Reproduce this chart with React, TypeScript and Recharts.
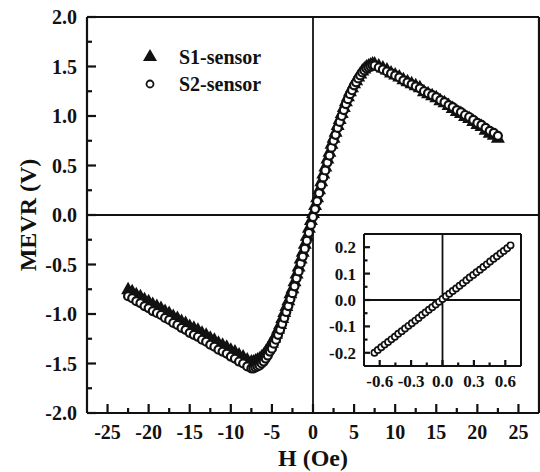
import { ScatterChart, Scatter, XAxis, YAxis, ReferenceLine, Legend } from 'recharts';

const FONT = '"Liberation Serif", "Times New Roman", serif';
const INK = '#111';

// Applied field (Oe): 0.5 Oe steps on the flanks, 0.25 Oe through the switching region
const H_FIELD = [
  -22.5, -22, -21.5, -21, -20.5, -20, -19.5, -19, -18.5, -18, -17.5, -17, -16.5, -16, -15.5,
  -15, -14.5, -14, -13.5, -13, -12.5, -12, -11.5, -11, -10.5, -10, -9.5, -9, -8.5, -8,
  -7.5, -7.25, -7, -6.75, -6.5, -6.25, -6, -5.75, -5.5, -5.25, -5, -4.75, -4.5, -4.25, -4,
  -3.75, -3.5, -3.25, -3, -2.75, -2.5, -2.25, -2, -1.75, -1.5, -1.25, -1, -0.75, -0.5, -0.25,
  0, 0.25, 0.5, 0.75, 1, 1.25, 1.5, 1.75, 2, 2.25, 2.5, 2.75, 3, 3.25, 3.5, 3.75,
  4, 4.25, 4.5, 4.75, 5, 5.25, 5.5, 5.75, 6, 6.25, 6.5, 6.75, 7, 7.25, 7.5,
  8, 8.5, 9, 9.5, 10, 10.5, 11, 11.5, 12, 12.5, 13, 13.5, 14, 14.5, 15,
  15.5, 16, 16.5, 17, 17.5, 18, 18.5, 19, 19.5, 20, 20.5, 21, 21.5, 22, 22.5,
];

// S1-sensor output (V)
const S1_MEVR = [
  -0.75, -0.77, -0.80, -0.82, -0.85, -0.87, -0.90, -0.92, -0.94, -0.97, -0.99, -1.02, -1.04, -1.07, -1.09,
  -1.12, -1.14, -1.16, -1.19, -1.21, -1.24, -1.26, -1.29, -1.31, -1.33, -1.36, -1.38, -1.41, -1.43, -1.46,
  -1.48, -1.48, -1.47, -1.46, -1.45, -1.43, -1.41, -1.38, -1.35, -1.31, -1.29, -1.24, -1.20, -1.15, -1.10,
  -1.04, -0.98, -0.92, -0.86, -0.79, -0.74, -0.67, -0.59, -0.52, -0.44, -0.37, -0.29, -0.21, -0.13, -0.05,
  0.02, 0.10, 0.18, 0.26, 0.34, 0.42, 0.49, 0.57, 0.64, 0.72, 0.78, 0.84, 0.91, 0.97, 1.03, 1.09,
  1.15, 1.20, 1.25, 1.29, 1.33, 1.36, 1.40, 1.43, 1.46, 1.48, 1.50, 1.51, 1.52, 1.53, 1.53,
  1.51, 1.49, 1.47, 1.44, 1.42, 1.40, 1.37, 1.35, 1.33, 1.31, 1.29, 1.25, 1.23, 1.21, 1.19,
  1.16, 1.14, 1.11, 1.08, 1.05, 1.03, 1.00, 0.98, 0.95, 0.92, 0.90, 0.86, 0.83, 0.81, 0.78,
];

// S2-sensor output (V)
const S2_MEVR = [
  -0.82, -0.84, -0.87, -0.89, -0.92, -0.94, -0.97, -0.99, -1.01, -1.04, -1.06, -1.09, -1.11, -1.14, -1.16,
  -1.19, -1.21, -1.23, -1.26, -1.28, -1.31, -1.33, -1.36, -1.38, -1.40, -1.43, -1.45, -1.48, -1.50, -1.53,
  -1.55, -1.55, -1.54, -1.53, -1.52, -1.50, -1.48, -1.45, -1.42, -1.38, -1.35, -1.30, -1.26, -1.21, -1.16,
  -1.10, -1.04, -0.98, -0.92, -0.85, -0.79, -0.72, -0.64, -0.57, -0.49, -0.42, -0.34, -0.26, -0.18, -0.10,
  -0.02, 0.06, 0.14, 0.22, 0.30, 0.38, 0.45, 0.53, 0.60, 0.68, 0.75, 0.81, 0.88, 0.94, 1.00, 1.06,
  1.12, 1.17, 1.22, 1.26, 1.31, 1.34, 1.38, 1.41, 1.44, 1.46, 1.48, 1.49, 1.50, 1.51, 1.51,
  1.49, 1.47, 1.45, 1.43, 1.41, 1.39, 1.36, 1.34, 1.32, 1.30, 1.28, 1.25, 1.23, 1.21, 1.19,
  1.16, 1.14, 1.11, 1.09, 1.06, 1.04, 1.01, 0.99, 0.96, 0.93, 0.91, 0.88, 0.85, 0.83, 0.80,
];

// inset: low-field sweep
const INSET_H = [
  -0.650, -0.618, -0.585, -0.553, -0.520, -0.488, -0.455, -0.423, -0.390, -0.358, -0.325,
  -0.293, -0.260, -0.228, -0.195, -0.163, -0.130, -0.098, -0.065, -0.033, 0,
  0.033, 0.065, 0.098, 0.130, 0.163, 0.195, 0.228, 0.260, 0.293, 0.325,
  0.358, 0.390, 0.423, 0.455, 0.488, 0.520, 0.553, 0.585, 0.618, 0.650,
];
const INSET_MEVR = [
  -0.200, -0.189, -0.179, -0.169, -0.159, -0.149, -0.139, -0.128, -0.118, -0.108, -0.098,
  -0.088, -0.078, -0.068, -0.057, -0.047, -0.037, -0.027, -0.017, -0.007, 0.004,
  0.014, 0.024, 0.034, 0.044, 0.054, 0.064, 0.075, 0.085, 0.095, 0.105,
  0.115, 0.125, 0.135, 0.146, 0.156, 0.166, 0.176, 0.186, 0.196, 0.207,
];

const H_TICKS = [-25, -22.5, -20, -17.5, -15, -12.5, -10, -7.5, -5, -2.5, 0, 2.5, 5, 7.5, 10, 12.5, 15, 17.5, 20, 22.5, 25];
const V_TICKS = [-2, -1.75, -1.5, -1.25, -1, -0.75, -0.5, -0.25, 0, 0.25, 0.5, 0.75, 1, 1.25, 1.5, 1.75, 2];
const INSET_H_TICKS = [-0.6, -0.45, -0.3, -0.15, 0, 0.15, 0.3, 0.45, 0.6];
const INSET_V_TICKS = [-0.2, -0.15, -0.1, -0.05, 0, 0.05, 0.1, 0.15, 0.2];

const s1Data = H_FIELD.map((h, i) => ({ h, v: S1_MEVR[i] }));
const s2Data = H_FIELD.map((h, i) => ({ h, v: S2_MEVR[i] }));
const insetData = INSET_H.map((h, i) => ({ h, v: INSET_MEVR[i] }));

const onStep = (v: number, step: number) => Math.abs(v / step - Math.round(v / step)) < 1e-6;

// each tick draws its own inward mark (long on majors, short on minors) and a label on majors
const bottomTick = (step: number, long: number, short: number, fs: number, gap: number, fmt: (v: number) => string) =>
  (props: any) => {
    const { x, y, payload } = props;
    const major = onStep(payload.value, step);
    const len = major ? long : short;
    return (
      <g>
        <rect x={x - 1.1} y={y - len} width={2.2} height={len} fill={INK} />
        {major && (
          <text x={x} y={y + gap} textAnchor="middle" fontFamily={FONT} fontWeight="bold" fontSize={fs} fill={INK}>
            {fmt(payload.value)}
          </text>
        )}
      </g>
    );
  };

const leftTick = (step: number, long: number, short: number, fs: number, gap: number, dy: number, fmt: (v: number) => string) =>
  (props: any) => {
    const { x, y, payload } = props;
    const major = onStep(payload.value, step);
    return (
      <g>
        <rect x={x} y={y - 1.1} width={major ? long : short} height={2.2} fill={INK} />
        {major && (
          <text x={x - gap} y={y + dy} textAnchor="end" fontFamily={FONT} fontWeight="bold" fontSize={fs} fill={INK}>
            {fmt(payload.value)}
          </text>
        )}
      </g>
    );
  };

const Triangle = (p: any) => (
  <polygon points={`${p.cx},${p.cy - 7.5} ${p.cx - 7},${p.cy + 5} ${p.cx + 7},${p.cy + 5}`} fill={INK} />
);
const OpenCircle = (p: any) => <circle cx={p.cx} cy={p.cy} r={4} fill="#fff" stroke={INK} strokeWidth={2.2} />;
const SmallCircle = (p: any) => <circle cx={p.cx} cy={p.cy} r={3.1} fill="#fff" stroke={INK} strokeWidth={1.7} />;

function LegendBox() {
  const txt = { fontFamily: FONT, fontWeight: 'bold' as const, fontSize: 20, fill: INK };
  return (
    <svg width={180} height={62}>
      <polygon points="22,11 15,23 29,23" fill={INK} />
      <text x={51} y={26} {...txt}>S1-sensor</text>
      <circle cx={22} cy={46} r={3.5} fill="#fff" stroke={INK} strokeWidth={1.8} />
      <text x={51} y={53} {...txt}>S2-sensor</text>
    </svg>
  );
}

function Inset() {
  return (
    <ScatterChart width={240} height={172} margin={{ top: 10, right: 9, bottom: 0, left: 0 }}>
      <XAxis
        type="number"
        dataKey="h"
        domain={[-0.75, 0.75]}
        ticks={INSET_H_TICKS}
        interval={0}
        height={30}
        tickSize={0}
        tickMargin={0}
        tickLine={false}
        axisLine={{ stroke: INK, strokeWidth: 2 }}
        tick={bottomTick(0.3, 6, 3.5, 17, 21, (v) => v.toFixed(1))}
      />
      <YAxis
        type="number"
        dataKey="v"
        domain={[-0.25, 0.25]}
        ticks={INSET_V_TICKS}
        interval={0}
        width={74}
        tickSize={0}
        tickMargin={0}
        tickLine={false}
        axisLine={{ stroke: INK, strokeWidth: 2 }}
        tick={leftTick(0.1, 6, 3.5, 17, 8, 6, (v) => v.toFixed(1))}
      />
      <ReferenceLine y={0.25} stroke={INK} strokeWidth={2} ifOverflow="visible" />
      <ReferenceLine x={0.75} stroke={INK} strokeWidth={2} ifOverflow="visible" />
      <ReferenceLine y={0} stroke={INK} strokeWidth={1.8} />
      <ReferenceLine x={0} stroke={INK} strokeWidth={1.8} />
      <Scatter data={insetData} shape={SmallCircle} isAnimationActive={false} />
    </ScatterChart>
  );
}

export default function App() {
  return (
    <div style={{ position: 'absolute', left: 0, top: 0, width: 540, height: 472, background: '#fff' }}>
      <ScatterChart width={540} height={472} margin={{ top: 17, right: 1, bottom: 0, left: 0 }}>
        <XAxis
          type="number"
          dataKey="h"
          domain={[-27.5, 27.5]}
          ticks={H_TICKS}
          interval={0}
          height={59}
          tickSize={0}
          tickMargin={0}
          tickLine={false}
          axisLine={{ stroke: INK, strokeWidth: 2.2 }}
          tick={bottomTick(5, 9, 5, 20, 26, (v) => String(v))}
          label={{
            value: 'H (Oe)',
            position: 'insideBottom',
            offset: 6,
            style: { fontFamily: FONT, fontWeight: 'bold', fontSize: 24, fill: INK },
          }}
        />
        <YAxis
          type="number"
          dataKey="v"
          domain={[-2, 2]}
          ticks={V_TICKS}
          interval={0}
          width={87}
          tickSize={0}
          tickMargin={0}
          tickLine={false}
          axisLine={{ stroke: INK, strokeWidth: 2.2 }}
          tick={leftTick(0.5, 9, 5, 20, 10, 7, (v) => v.toFixed(1))}
          label={{
            value: 'MEVR (V)',
            angle: -90,
            position: 'insideLeft',
            offset: 27,
            style: { fontFamily: FONT, fontWeight: 'bold', fontSize: 24, fill: INK, textAnchor: 'middle' },
          }}
        />
        <ReferenceLine y={2} stroke={INK} strokeWidth={2.2} ifOverflow="visible" />
        <ReferenceLine x={27.5} stroke={INK} strokeWidth={2.2} ifOverflow="visible" />
        <ReferenceLine y={0} stroke={INK} strokeWidth={1.8} />
        <ReferenceLine x={0} stroke={INK} strokeWidth={1.8} />
        <Legend
          layout="vertical"
          align="center"
          verticalAlign="middle"
          wrapperStyle={{ left: 128, top: 38, width: 180, height: 62 }}
          content={() => <LegendBox />}
        />
        <Scatter name="S1-sensor" data={s1Data} shape={Triangle} isAnimationActive={false} />
        <Scatter name="S2-sensor" data={s2Data} shape={OpenCircle} isAnimationActive={false} />
      </ScatterChart>
      <div style={{ position: 'absolute', left: 290, top: 224 }}>
        <Inset />
      </div>
    </div>
  );
}
